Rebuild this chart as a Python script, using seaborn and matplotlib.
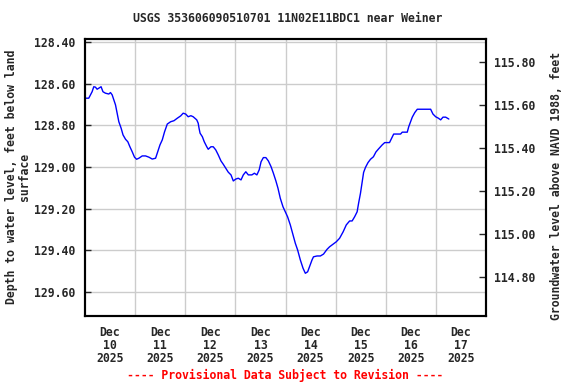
import pandas as pd
import numpy as np
import matplotlib
matplotlib.use("Agg")
import matplotlib.pyplot as plt
import seaborn as sns

# hours since 2025-12-10 00:00 and depth to water (ft below land surface)
hours = [0.2, 1.8, 2.6, 3.4, 4.2, 5.0, 5.8, 6.6, 7.7, 8.6, 9.8, 11.4, 12.2, 13.0, 13.8, 14.6,
         15.4, 16.2, 17.3, 18.2, 19.4, 20.5, 21.5, 22.6, 23.7, 24.7, 25.8, 27.4, 29.0, 30.6,
         32.2, 33.8, 34.6, 35.9, 37.0, 38.1, 39.4, 41.0, 42.6, 44.2, 45.8, 47.0, 48.2, 49.4,
         50.7, 51.8, 53.5, 54.2, 54.6, 55.1, 56.2, 57.1, 58.3, 59.0, 60.3, 61.4, 62.6, 63.8,
         65.1, 66.2, 67.4, 68.6, 69.9, 71.0, 72.2, 73.4, 74.7, 75.8, 77.0, 78.2, 79.9, 81.1,
         82.3, 83.4, 84.3, 85.4, 86.6, 87.8, 89.1, 90.2, 91.4, 92.4, 93.5, 94.8, 95.9, 97.0,
         98.3, 99.6, 100.7, 101.8, 103.1, 104.4, 105.5, 106.6, 107.5, 108.7, 109.4, 111.1,
         112.7, 114.2, 115.9, 117.1, 118.8, 120.3, 121.9, 123.6, 125.1, 126.7, 127.9, 129.1,
         130.3, 131.0, 131.9, 132.7, 133.4, 134.3, 135.5, 136.7, 138.1, 139.3, 140.5, 142.3,
         143.5, 145.8, 147.1, 147.8, 151.1, 151.9, 154.3, 155.0, 155.9, 156.7, 157.9, 159.1,
         165.5, 166.6, 167.9, 169.2, 170.3, 171.4, 172.7, 173.5, 174.2]
depth = [128.670, 128.670, 128.654, 128.639, 128.615, 128.617, 128.627, 128.622, 128.615,
         128.639, 128.646, 128.650, 128.643, 128.654, 128.678, 128.702, 128.742, 128.783,
         128.814, 128.846, 128.867, 128.879, 128.903, 128.927, 128.953, 128.963, 128.958,
         128.947, 128.947, 128.953, 128.962, 128.958, 128.934, 128.894, 128.870, 128.831,
         128.794, 128.783, 128.778, 128.766, 128.755, 128.742, 128.746, 128.759, 128.754,
         128.759, 128.774, 128.790, 128.814, 128.838, 128.855, 128.879, 128.903, 128.915,
         128.903, 128.903, 128.918, 128.942, 128.971, 128.987, 129.006, 129.025, 129.038,
         129.067, 129.058, 129.054, 129.062, 129.038, 129.023, 129.038, 129.038, 129.030,
         129.038, 129.014, 128.975, 128.955, 128.955, 128.971, 128.999, 129.030, 129.067,
         129.102, 129.150, 129.191, 129.215, 129.239, 129.278, 129.326, 129.366, 129.398,
         129.446, 129.486, 129.510, 129.503, 129.479, 129.446, 129.431, 129.427, 129.427,
         129.418, 129.395, 129.383, 129.370, 129.359, 129.342, 129.311, 129.278, 129.259,
         129.259, 129.239, 129.215, 129.174, 129.126, 129.074, 129.026, 129.002, 128.979,
         128.963, 128.951, 128.928, 128.914, 128.894, 128.883, 128.883, 128.857, 128.842,
         128.842, 128.833, 128.833, 128.807, 128.783, 128.761, 128.739, 128.723, 128.723,
         128.746, 128.759, 128.766, 128.774, 128.761, 128.761, 128.766, 128.770]

left_ticks = [128.40, 128.60, 128.80, 129.00, 129.20, 129.40, 129.60]
right_ticks = [114.80, 115.00, 115.20, 115.40, 115.60, 115.80]
day_labels = ["Dec\n10\n2025", "Dec\n11\n2025", "Dec\n12\n2025", "Dec\n13\n2025",
              "Dec\n14\n2025", "Dec\n15\n2025", "Dec\n16\n2025", "Dec\n17\n2025"]

start = pd.Timestamp("2025-12-10")
df = pd.DataFrame({"time": start + pd.to_timedelta(hours, unit="h"), "depth": depth})

sns.set_style("white")
plt.rcParams['font.family'] = ['DejaVu Sans Mono']
plt.rcParams['font.weight'] = 'bold'
fs = 8.3

fig = plt.figure(figsize=(5.76, 3.84), dpi=100)
ax = fig.add_axes([85/576, 1 - 316/384, 401/576, 277/384])

sns.lineplot(data=df, x="time", y="depth", color="#0000ff", linewidth=1.0, ax=ax)

ax.set_xlim(start, start + pd.Timedelta(days=8))
ax.set_ylim(129.715, 128.386)
ax.set_yticks(left_ticks)
ax.set_yticklabels([f"{v:.2f}" for v in left_ticks], fontsize=fs, fontweight='bold')

noons = [start + pd.Timedelta(hours=12 + 24 * k) for k in range(8)]
midnights = [start + pd.Timedelta(days=k) for k in range(1, 8)]
ax.set_xticks(noons)
ax.set_xticklabels(day_labels, fontsize=fs, fontweight='bold', linespacing=1.0)
ax.set_xticks(midnights, minor=True)
ax.tick_params(axis='x', which='both', length=0, pad=7)
ax.tick_params(axis='y', direction='in', length=4, width=1, pad=7)

ax.grid(False)
ax.yaxis.grid(True, color="#cccccc", linewidth=1.0)
ax.xaxis.grid(True, which='minor', color="#cccccc", linewidth=1.0)
ax.set_axisbelow(True)
ax.set_xlabel("")
ax.set_ylabel("")
for s in ax.spines.values():
    s.set_color("black")
    s.set_linewidth(1.5)

ax2 = ax.twinx()
ax2.set_ylim(114.620, 115.908)
ax2.set_yticks(right_ticks)
ax2.set_yticklabels([f"{v:.2f}" for v in right_ticks], fontsize=fs, fontweight='bold')
ax2.tick_params(axis='y', direction='in', length=5, width=1, pad=6)
ax2.grid(False)
for s in ax2.spines.values():
    s.set_linewidth(1.5)
    s.set_color("black")

fig.text(288/576, 1 - 19/384, "USGS 353606090510701 11N02E11BDC1 near Weiner",
         ha='center', va='center', fontsize=fs, fontweight='bold')
fig.text(18/576, 1 - 177/384, "Depth to water level, feet below land\nsurface",
         rotation=90, ha='center', va='center', multialignment='center',
         fontsize=fs, fontweight='bold', linespacing=1.0)
fig.text(557/576, 1 - 186/384, "Groundwater level above NAVD 1988, feet",
         rotation=90, ha='center', va='center', fontsize=fs, fontweight='bold')
fig.text(285/576, 1 - 375/384, "---- Provisional Data Subject to Revision ----",
         ha='center', va='center', fontsize=fs, fontweight='bold', color='red')

fig.savefig("out.png", dpi=100)
